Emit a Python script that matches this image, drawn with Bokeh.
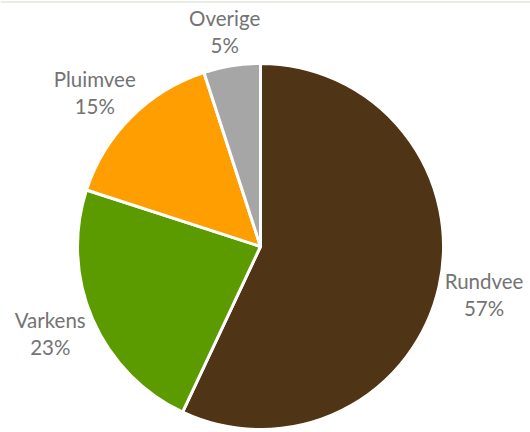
import math
from bokeh.plotting import figure
from bokeh.models import Range1d, ColumnDataSource, Span
from bokeh.core.properties import value
from bokeh.embed import file_html
from bokeh.resources import INLINE

categories = ["Rundvee", "Varkens", "Pluimvee", "Overige"]
values = [57, 23, 15, 5]
colors = ["#4F3415", "#5B9B00", "#FF9E00", "#A6A6A6"]

W, H = 530, 432
cx, cy, r = 260, 432 - 246, 183
pad = 9
char_w = 5.3
half_h = 26

total = sum(values)
starts, ends, lx, ly, names, pcts = [], [], [], [], [], []
cum = 0.0
for c, v in zip(categories, values):
    a0 = math.pi / 2 - 2 * math.pi * cum / total
    cum += v
    a1 = math.pi / 2 - 2 * math.pi * cum / total
    starts.append(a0)
    ends.append(a1)
    mid = (a0 + a1) / 2
    half_w = len(c) * char_w
    lx.append(cx + (r + pad) * math.cos(mid) + half_w * math.cos(mid))
    ly.append(cy + (r + pad) * math.sin(mid) + half_h * math.sin(mid))
    names.append(c)
    pcts.append(f"{round(100 * v / total)}%")

src = ColumnDataSource(dict(start=starts, end=ends, color=colors, lx=lx, ly=ly,
                            name=names, pct=pcts))

p = figure(width=W, height=H, output_backend="svg", toolbar_location=None,
           x_range=Range1d(0, W), y_range=Range1d(0, H), min_border=0)
p.xaxis.visible = False
p.yaxis.visible = False
p.grid.visible = False
p.outline_line_color = None
p.background_fill_color = "white"
p.border_fill_color = "white"

p.add_layout(Span(location=H - 1.5, dimension="width", line_color="#E3E6DE", line_width=1.5))

p.wedge(x=cx, y=cy, radius=r, start_angle="start", end_angle="end",
        direction="clock", fill_color="color", line_color="white",
        line_width=3, source=src)

p.text(x="lx", y="ly", text="name", source=src, text_align="center",
       text_baseline="middle", y_offset=-13, text_font=value("Lato"),
       text_font_size="20.5px", text_color="#737373")
p.text(x="lx", y="ly", text="pct", source=src, text_align="center",
       text_baseline="middle", y_offset=14, text_font=value("Lato"),
       text_font_size="20.5px", text_color="#737373")

open("out.html", "w").write(file_html(p, INLINE))
